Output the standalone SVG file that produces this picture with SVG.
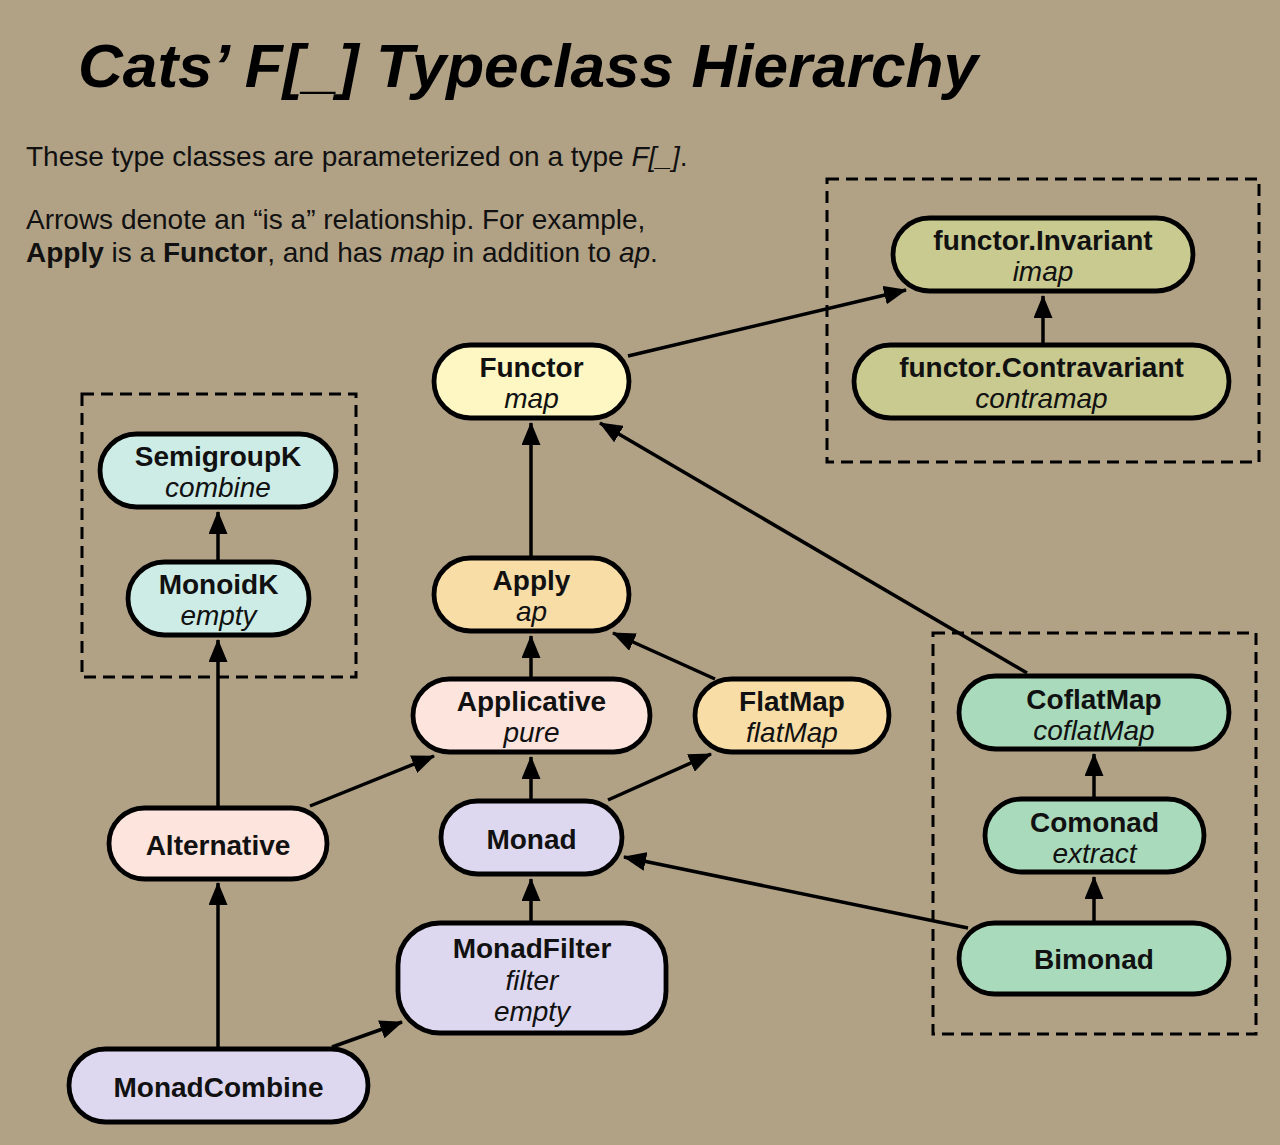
<svg xmlns="http://www.w3.org/2000/svg" width="1280" height="1145" viewBox="0 0 1280 1145">
<style>
  .bg{fill:#b1a286}
  .node rect{stroke:#000;stroke-width:4.8}
  .t{font-family:"Liberation Sans",Arial,sans-serif;font-size:28px;fill:#111;text-anchor:middle}
  .b{font-weight:bold}
  .i{font-style:italic}
  .body{font-family:"Liberation Sans",Arial,sans-serif;font-size:28px;fill:#111}
  .dash{fill:none;stroke:#000;stroke-width:3;stroke-dasharray:12 7}
  .edge line{stroke:#000;stroke-width:3.5;marker-end:url(#arr)}
  .yel{fill:#fff7c3}
  .olive{fill:#c9ca8f}
  .cyan{fill:#cdece6}
  .org{fill:#f8dda7}
  .pink{fill:#fde4dc}
  .lav{fill:#ddd8ef}
  .mint{fill:#a9dabb}
</style>
<defs>
  <marker id="arr" markerUnits="userSpaceOnUse" markerWidth="23" markerHeight="19" viewBox="0 0 23 19" refX="22" refY="9.5" orient="auto">
    <path d="M0,0 L23,9.5 L0,19 z" fill="#000"/>
  </marker>
</defs>
<rect class="bg" x="0" y="0" width="1280" height="1145"/>

<text x="78" y="87" font-family="Liberation Sans,Arial,sans-serif" font-size="62" font-weight="bold" font-style="italic" fill="#000" textLength="900" lengthAdjust="spacingAndGlyphs">Cats’ F[_] Typeclass Hierarchy</text>
<text class="body" x="26" y="166">These type classes are parameterized on a type <tspan class="i">F[_]</tspan>.</text>
<text class="body" x="26" y="229">Arrows denote an “is a” relationship. For example,</text>
<text class="body" x="26" y="262"><tspan class="b">Apply</tspan> is a <tspan class="b">Functor</tspan>, and has <tspan class="i">map</tspan> in addition to <tspan class="i">ap</tspan>.</text>

<g id="groups">
  <rect class="dash" x="827" y="179" width="432" height="283"/>
  <rect class="dash" x="82" y="394" width="274" height="283"/>
  <rect class="dash" x="933" y="633" width="323" height="401"/>
</g>

<g id="connectors" class="edge">
  <line x1="628" y1="356" x2="906" y2="290"/>
  <line x1="1043" y1="343" x2="1043" y2="296"/>
  <line x1="531" y1="556" x2="531" y2="423"/>
  <line x1="531" y1="677" x2="531" y2="636"/>
  <line x1="715" y1="679" x2="613" y2="633"/>
  <line x1="531" y1="799" x2="531" y2="757"/>
  <line x1="608" y1="800" x2="711" y2="754"/>
  <line x1="310" y1="806" x2="434" y2="756"/>
  <line x1="218" y1="806" x2="218" y2="640"/>
  <line x1="218" y1="560" x2="218" y2="512"/>
  <line x1="531" y1="921" x2="531" y2="879"/>
  <line x1="218" y1="1047" x2="218" y2="883"/>
  <line x1="332" y1="1047" x2="402" y2="1022"/>
  <line x1="1027" y1="673" x2="600" y2="423"/>
  <line x1="1094" y1="797" x2="1094" y2="754"/>
  <line x1="1094" y1="921" x2="1094" y2="877"/>
  <line x1="968" y1="928" x2="624" y2="857"/>
</g>

<g id="Functor" class="node"><rect class="yel" x="434" y="345" width="195" height="73" rx="36.5"/><text class="t b" x="531.5" y="377">Functor</text><text class="t i" x="531.5" y="408">map</text></g>
<g id="Invariant" class="node"><rect class="olive" x="893" y="218" width="300" height="73" rx="36.5"/><text class="t b" x="1043" y="250">functor.Invariant</text><text class="t i" x="1043" y="281">imap</text></g>
<g id="Contravariant" class="node"><rect class="olive" x="854" y="345" width="375" height="73" rx="36.5"/><text class="t b" x="1041.5" y="377">functor.Contravariant</text><text class="t i" x="1041.5" y="408">contramap</text></g>
<g id="SemigroupK" class="node"><rect class="cyan" x="100" y="434" width="236" height="73" rx="36.5"/><text class="t b" x="218" y="466">SemigroupK</text><text class="t i" x="218" y="497">combine</text></g>
<g id="MonoidK" class="node"><rect class="cyan" x="128" y="562" width="181" height="73" rx="36.5"/><text class="t b" x="218.5" y="594">MonoidK</text><text class="t i" x="218.5" y="625">empty</text></g>
<g id="Apply" class="node"><rect class="org" x="434" y="558" width="195" height="73" rx="36.5"/><text class="t b" x="531.5" y="590">Apply</text><text class="t i" x="531.5" y="621">ap</text></g>
<g id="Applicative" class="node"><rect class="pink" x="413" y="679" width="237" height="73" rx="36.5"/><text class="t b" x="531.5" y="711">Applicative</text><text class="t i" x="531.5" y="742">pure</text></g>
<g id="FlatMap" class="node"><rect class="org" x="695" y="679" width="194" height="73" rx="36.5"/><text class="t b" x="792" y="711">FlatMap</text><text class="t i" x="792" y="742">flatMap</text></g>
<g id="Alternative" class="node"><rect class="pink" x="109" y="808" width="218" height="71" rx="35.5"/><text class="t b" x="218" y="855">Alternative</text></g>
<g id="Monad" class="node"><rect class="lav" x="441" y="801" width="181" height="73" rx="36.5"/><text class="t b" x="531.5" y="849">Monad</text></g>
<g id="MonadFilter" class="node"><rect class="lav" x="398" y="923" width="268" height="110" rx="42"/><text class="t b" x="532" y="958">MonadFilter</text><text class="t i" x="532" y="990">filter</text><text class="t i" x="532" y="1021">empty</text></g>
<g id="MonadCombine" class="node"><rect class="lav" x="69" y="1049" width="299" height="73" rx="36.5"/><text class="t b" x="218.5" y="1097">MonadCombine</text></g>
<g id="CoflatMap" class="node"><rect class="mint" x="959" y="676" width="270" height="73" rx="36.5"/><text class="t b" x="1094" y="709">CoflatMap</text><text class="t i" x="1094" y="740">coflatMap</text></g>
<g id="Comonad" class="node"><rect class="mint" x="985" y="799" width="219" height="73" rx="36.5"/><text class="t b" x="1094.5" y="832">Comonad</text><text class="t i" x="1094.5" y="863">extract</text></g>
<g id="Bimonad" class="node"><rect class="mint" x="959" y="923" width="270" height="71" rx="35.5"/><text class="t b" x="1094" y="969">Bimonad</text></g>
</svg>
